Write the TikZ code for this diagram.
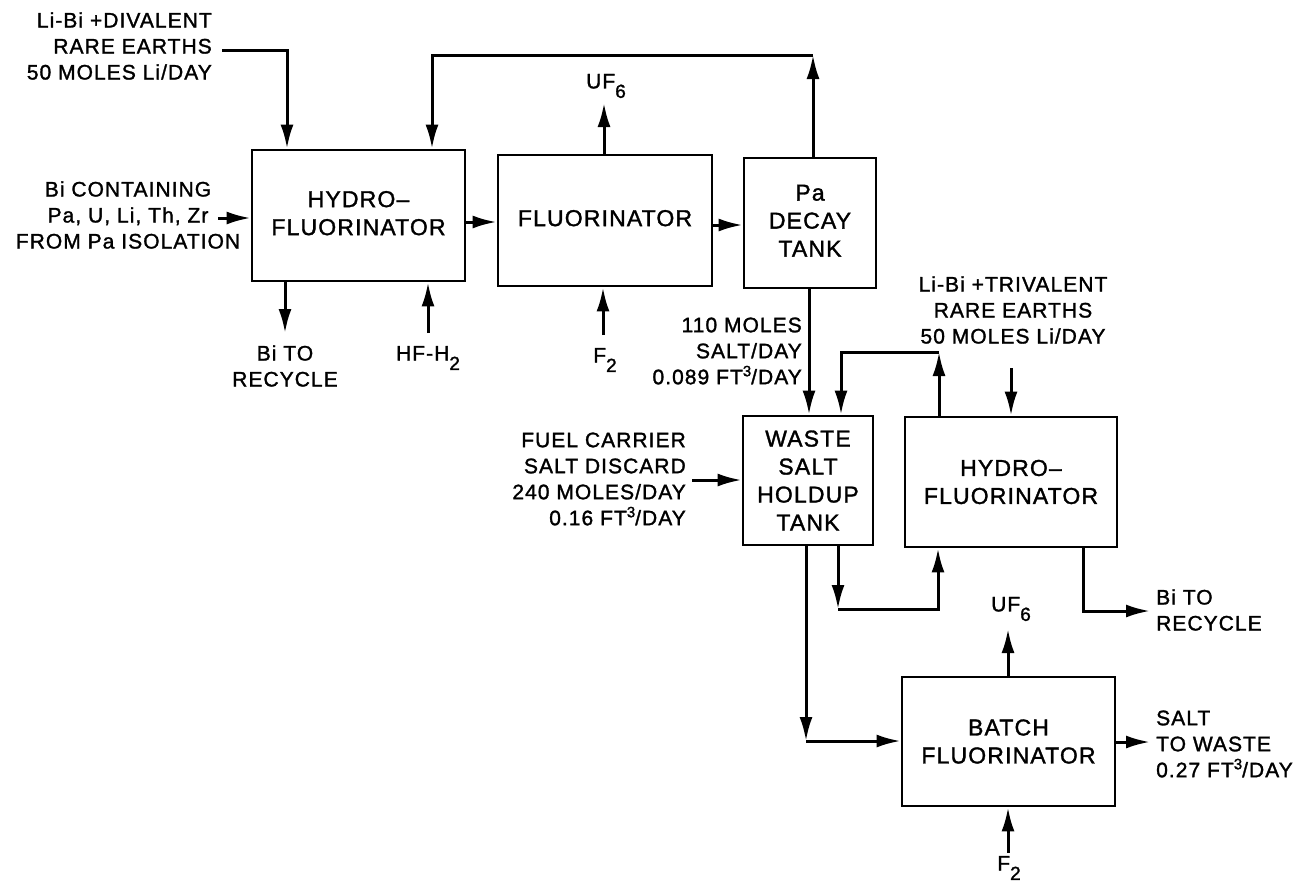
\documentclass[tikz,border=0pt]{standalone}
\usepackage{fontspec}
\setmainfont{Liberation Sans}[LetterSpace=5,FakeBold=1.4]
\usetikzlibrary{arrows.meta}
\newcommand\lowsub[1]{\raisebox{-0.45em}{\fontsize{19}{19}\selectfont #1}}
\newcommand\upsup[1]{\raisebox{0.38em}{\fontsize{15}{15}\selectfont #1}}
\newcommand\shifted[2]{\raisebox{#1}{\begin{tabular}{@{}c@{}}#2\end{tabular}}}
\begin{document}
\begin{tikzpicture}[x=1pt,y=-1pt,
  box/.style={draw, line width=2.8pt, inner sep=0pt, align=center, font=\fontsize{23}{28}\selectfont},
  lbl/.style={inner sep=0pt, font=\fontsize{21}{26}\selectfont},
  arr/.style={line width=3pt, -{Latex[length=24pt,width=13pt]}}]
\useasboundingbox (0,0) rectangle (1311,887);
\fill[white] (0,0) rectangle (1311,887);

% boxes
\node[box, minimum width=213pt, minimum height=131pt] (hf1) at (358.5,215.5) {\shifted{-7pt}{HYDRO–\\FLUORINATOR}};
\node[box, minimum width=214pt, minimum height=131pt] (fl) at (605,220.5) {\shifted{-4pt}{FLUORINATOR}};
\node[box, minimum width=132pt, minimum height=130pt] (pa) at (810,223) {\shifted{-4pt}{Pa\\DECAY\\TANK}};
\node[box, minimum width=130pt, minimum height=129pt] (ws) at (808,480.5) {WASTE\\SALT\\HOLDUP\\TANK};
\node[box, minimum width=212pt, minimum height=130pt] (hf2) at (1011,482) {HYDRO–\\FLUORINATOR};
\node[box, minimum width=213pt, minimum height=129pt] (bf) at (1008.5,741.5) {BATCH\\FLUORINATOR};

% labels
\node[lbl, align=right, anchor=east] (t1) at (212,46) {Li-Bi +DIVALENT\\RARE EARTHS\\50 MOLES Li/DAY};
\node[lbl, align=center] (t2) at (128,215) {Bi CONTAINING\\Pa, U, Li, Th, Zr\\FROM Pa ISOLATION};
\node[lbl, align=center] (t3) at (285,366) {Bi TO\\RECYCLE};
\node[lbl] (t4) at (428,358) {HF-H\lowsub{2}};
\node[lbl] (t5) at (606,86) {UF\lowsub{6}};
\node[lbl] (t6) at (605,360) {F\lowsub{2}};
\node[lbl, align=right, anchor=east] (t7) at (802,351) {110 MOLES\\SALT/DAY\\0.089 FT\upsup{3}/DAY};
\node[lbl, align=right, anchor=east] (t8) at (686,479) {FUEL CARRIER\\SALT DISCARD\\240 MOLES/DAY\\0.16 FT\upsup{3}/DAY};
\node[lbl, align=center] (t9) at (1013,310) {Li-Bi +TRIVALENT\\RARE EARTHS\\50 MOLES Li/DAY};
\node[lbl, align=left, anchor=west] (t10) at (1156,610) {Bi TO\\RECYCLE};
\node[lbl] (t11) at (1011,609) {UF\lowsub{6}};
\node[lbl, align=left, anchor=west] (t12) at (1156,744) {SALT\\TO WASTE\\0.27 FT\upsup{3}/DAY};
\node[lbl] (t13) at (1009,868) {F\lowsub{2}};

% coordinates
\coordinate (in1) at (222,50);
\coordinate (k1) at (287,50);
\coordinate (in2) at (218,218);
\coordinate (out1) at (285,333);
\coordinate (in3) at (428,333);
\coordinate (y1) at (0,222);
\coordinate (y2) at (0,225);
\coordinate (uf1) at (604,103);
\coordinate (f2a) at (603,335);
\coordinate (r1) at (813,55);
\coordinate (r2) at (432,55);
\coordinate (v1) at (809,300);
\coordinate (in4) at (692,480);
\coordinate (l1) at (939,352);
\coordinate (l2) at (841,352);
\coordinate (in5) at (1011,368);
\coordinate (l3) at (838,609);
\coordinate (l4) at (938,609);
\coordinate (l5) at (1083,611);
\coordinate (out2) at (1150,611);
\coordinate (l6) at (806,741);
\coordinate (uf2) at (1008,629);
\coordinate (f2b) at (1008,853);
\coordinate (out3) at (1150,742);

% connectors
\draw[arr] (in1) -- (k1) -- (k1 |- hf1.north);
\draw[arr] (in2) -- (in2 -| hf1.west);
\draw[arr] (out1 |- hf1.south) -- (out1);
\draw[arr] (in3) -- (in3 |- hf1.south);
\draw[arr] (hf1.east |- y1) -- (fl.west |- y1);
\draw[arr] (fl.east |- y2) -- (pa.west |- y2);
\draw[arr] (uf1 |- fl.north) -- (uf1);
\draw[arr] (f2a) -- (f2a |- fl.south);
\draw[arr] (r1 |- pa.north) -- (r1);
\draw[arr] (r1) -- (r2) -- (r2 |- hf1.north);
\draw[arr] (v1 |- pa.south) -- (v1 |- ws.north);
\draw[arr] (in4) -- (in4 -| ws.west);
\draw[arr] (l1 |- hf2.north) -- (l1);
\draw[arr] (l1) -- (l2) -- (l2 |- ws.north);
\draw[arr] (in5) -- (in5 |- hf2.north);
\draw[arr] (l3 |- ws.south) -- (l3);
\draw[arr] (l3) -- (l4) -- (l4 |- hf2.south);
\draw[arr] (l5 |- hf2.south) -- (l5) -- (out2);
\draw[arr] (l6 |- ws.south) -- (l6);
\draw[arr] (l6) -- (l6 -| bf.west);
\draw[arr] (uf2 |- bf.north) -- (uf2);
\draw[arr] (f2b) -- (f2b |- bf.south);
\draw[arr] (out3 -| bf.east) -- (out3);
\end{tikzpicture}
\end{document}
